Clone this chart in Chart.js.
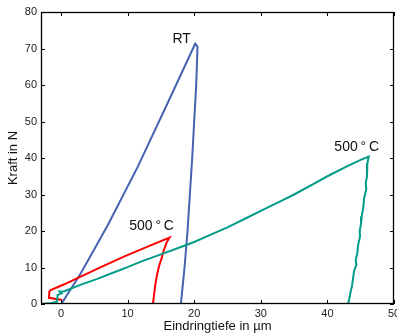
<!DOCTYPE html>
<html>
<head>
<meta charset="utf-8">
<script src="https://cdn.jsdelivr.net/npm/chart.js@4.4.1/dist/chart.umd.min.js"></script>
<style>
  html, body { margin: 0; padding: 0; background: #fff; }
</style>
</head>
<body>
<canvas id="chart" width="397" height="336"></canvas>
<script>
// RT (blue)
const blueX = [0.05, 3.0, 7.0, 11.5, 16.0, 20.15, 20.5, 20.3, 20.0, 19.7, 19.35, 19.0, 18.55, 18.0];
const blueY = [0, 8.5, 21.5, 37.5, 55, 71.3, 70.5, 60, 50, 40, 30, 20, 10, 0];

// 500°C (red)
const redX = [0.2, -1.8, -1.75, -1.55, 0.5, 2.95, 6, 9.45, 13, 16.3, 15.9, 15.45, 15.1, 14.7, 14.4, 14.2, 14.0, 13.85, 13.8];
const redY = [1.1, 1.7, 3.4, 3.8, 5.4, 7.5, 10.1, 13.0, 15.7, 18.2, 17, 14.8, 12.5, 10.2, 7.8, 5.7, 3, 0.6, 0];

// 500°C (teal)
const tealX = [-3, -1.5, -0.6, -0.5, 0.1, -0.2, 0.5, 3, 5.35, 8, 10, 12, 15, 18, 20, 23, 25, 28, 30, 33, 35, 38, 40, 43, 45, 46.2,
  46.0, 45.95, 45.75, 45.85, 45.5, 45.4, 45.15, 45.05, 44.85, 44.9, 44.6, 44.5, 44.25, 44.35, 44.0, 43.85, 43.7, 43.5, 43.3, 43.1];
const tealY = [0, 0.2, 0.6, 2.5, 2.9, 3.4, 3.5, 5.3, 6.8, 8.7, 10.1, 11.6, 13.6, 15.6, 17, 19.4, 21, 23.7, 25.5, 28.2, 30, 33, 35, 37.8, 39.5, 40.4,
  38.5, 35, 33, 31.5, 29, 26.5, 24, 22, 20, 18.5, 16, 14, 12, 10.8, 9, 7, 5, 3.5, 1.5, 0];

const xTicks = [0, 10, 20, 30, 40, 50];
const yTicks = [0, 10, 20, 30, 40, 50, 60, 70, 80];

const labelText = ['RT', '500\u2009°\u2009C', '500\u2009°\u2009C'];
const labelX = [19.5, 13.6, 44.4];
const labelY = [72.6, 21.2, 43.1];

function toPoints(xs, ys) {
    return xs.map((v, i) => ({ x: v, y: ys[i] }));
}

const fontFamily = "'Liberation Sans', Arial, sans-serif";

const frame = {
    id: 'frame',
    afterDatasetsDraw(chart) {
        const { ctx, chartArea: a, scales: { x, y } } = chart;
        ctx.save();
        ctx.strokeStyle = '#000';
        ctx.lineWidth = 1;
        ctx.beginPath();
        xTicks.forEach(v => {
            const px = Math.round(x.getPixelForValue(v)) + 0.5;
            ctx.moveTo(px, a.bottom); ctx.lineTo(px, a.bottom - 4);
            ctx.moveTo(px, a.top); ctx.lineTo(px, a.top + 4);
        });
        yTicks.forEach(v => {
            const py = Math.round(y.getPixelForValue(v)) + 0.5;
            ctx.moveTo(a.left, py); ctx.lineTo(a.left + 4, py);
            ctx.moveTo(a.right, py); ctx.lineTo(a.right - 4, py);
        });
        ctx.stroke();
        ctx.lineWidth = 1.3;
        ctx.strokeRect(Math.round(a.left) + 0.5, Math.round(a.top) + 0.5, Math.round(a.width) - 1, Math.round(a.height) - 1);

        // annotations
        ctx.fillStyle = '#111';
        ctx.font = '14px ' + fontFamily;
        ctx.textBaseline = 'middle';
        labelText.forEach((t, i) => {
            ctx.textAlign = i === 0 ? 'right' : 'center';
            ctx.fillText(t, x.getPixelForValue(labelX[i]), y.getPixelForValue(labelY[i]));
        });
        ctx.restore();
    }
};

const ctx = document.getElementById('chart').getContext('2d');
new Chart(ctx, {
    type: 'scatter',
    data: {
        datasets: [
            { data: toPoints(tealX, tealY), borderColor: '#009c88', borderWidth: 2, showLine: true, pointRadius: 0, tension: 0 },
            { data: toPoints(redX, redY), borderColor: '#ff0000', borderWidth: 2, showLine: true, pointRadius: 0, tension: 0 },
            { data: toPoints(blueX, blueY), borderColor: '#4563b0', borderWidth: 2, showLine: true, pointRadius: 0, tension: 0 }
        ]
    },
    options: {
        responsive: false,
        animation: false,
        layout: { padding: { top: 12, right: 3, left: 0, bottom: 0 } },
        plugins: {
            legend: { display: false },
            tooltip: { enabled: false }
        },
        scales: {
            x: {
                type: 'linear',
                min: -3,
                max: 50,
                afterBuildTicks: s => { s.ticks = xTicks.map(v => ({ value: v })); },
                afterFit: s => { s.height = 32; s.paddingLeft = 0; s.paddingRight = 0; },
                grid: { display: false, drawTicks: false },
                border: { display: false },
                ticks: { padding: 3, maxRotation: 0, autoSkip: false, color: '#222', font: { size: 11, family: fontFamily } },
                title: { display: true, text: 'Eindringtiefe in µm', color: '#111', padding: { top: 0, bottom: 2 }, font: { size: 13, family: fontFamily } }
            },
            y: {
                type: 'linear',
                min: 0,
                max: 80,
                afterBuildTicks: s => { s.ticks = yTicks.map(v => ({ value: v })); },
                afterFit: s => { s.width = 41; s.paddingTop = 0; s.paddingBottom = 0; },
                grid: { display: false, drawTicks: false },
                border: { display: false },
                ticks: { padding: 4, autoSkip: false, color: '#222', font: { size: 11, family: fontFamily } },
                title: { display: true, text: 'Kraft in N', color: '#111', padding: { top: 6, bottom: 0 }, font: { size: 13, family: fontFamily } }
            }
        }
    },
    plugins: [frame]
});
</script>
</body>
</html>
